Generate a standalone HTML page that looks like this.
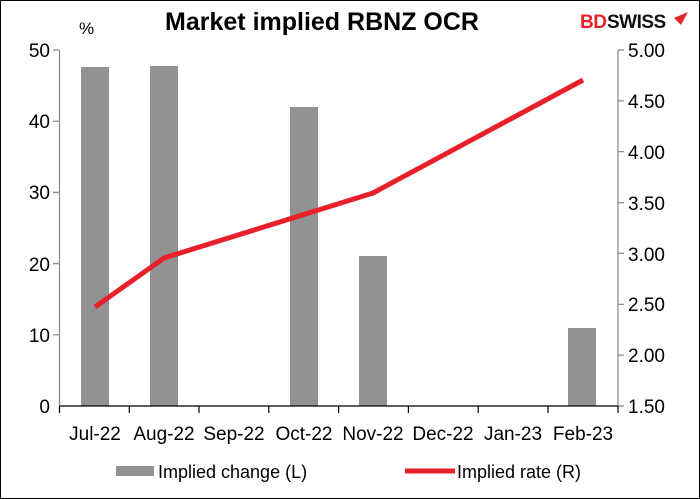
<!DOCTYPE html>
<html><head><meta charset="utf-8"><style>body{margin:0;background:#fff}svg{display:block}</style></head><body>
<svg width="700" height="499" xmlns="http://www.w3.org/2000/svg" font-family="Liberation Sans, sans-serif">
<rect x="0.5" y="0.5" width="699" height="498" fill="#fff" stroke="#000"/>
<text x="322" y="30" font-size="25" font-weight="bold" text-anchor="middle">Market implied RBNZ OCR</text>
<text x="580" y="28" font-size="19" font-weight="bold" fill="#e8202a" letter-spacing="-0.5">BD</text>
<text x="607" y="28" font-size="19" font-weight="bold" fill="#111" letter-spacing="-0.5">SWISS</text>
<path d="M674 18 L688 12 L681 25 Z" fill="#e8202a"/>
<text x="79" y="34" font-size="17">%</text>
<g fill="#929292">
<rect x="81" y="67" width="28" height="339"/>
<rect x="150" y="66" width="28" height="340"/>
<rect x="290" y="107" width="28" height="299"/>
<rect x="359" y="256" width="28" height="150"/>
<rect x="568" y="328" width="28" height="78"/>
</g>
<g stroke="#888" stroke-width="1.2" fill="none">
<path d="M59.5 50 V406"/>
<path d="M53 50H59.5M53 121.2H59.5M53 192.4H59.5M53 263.6H59.5M53 334.8H59.5"/>
<path d="M618 50 V406"/>
<path d="M618 50H624M618 100.9H624M618 151.7H624M618 202.6H624M618 253.4H624M618 304.3H624M618 355.1H624M618 406H624"/>
</g>
<g stroke="#000" stroke-width="1.2">
<path d="M59.5 406H618"/>
<path d="M59.5 406V413M129.3 406V413M199 406V413M268.8 406V413M338.6 406V413M408.4 406V413M478.2 406V413M548 406V413M618 406V413"/>
</g>
<g font-size="19" text-anchor="end">
<text x="50" y="57">50</text><text x="50" y="128">40</text><text x="50" y="199">30</text><text x="50" y="271">20</text><text x="50" y="342">10</text><text x="50" y="413">0</text>
</g>
<g font-size="19">
<text x="628" y="57">5.00</text><text x="628" y="108">4.50</text><text x="628" y="159">4.00</text><text x="628" y="210">3.50</text><text x="628" y="261">3.00</text><text x="628" y="311">2.50</text><text x="628" y="362">2.00</text><text x="628" y="413">1.50</text>
</g>
<g font-size="19" text-anchor="middle">
<text x="95" y="440">Jul-22</text><text x="164" y="440">Aug-22</text><text x="234" y="440">Sep-22</text><text x="304" y="440">Oct-22</text><text x="373" y="440">Nov-22</text><text x="443" y="440">Dec-22</text><text x="513" y="440">Jan-23</text><text x="583" y="440">Feb-23</text>
</g>
<polyline points="95,307 164,258 373,193 583,80" fill="none" stroke="#e8202a" stroke-width="5" stroke-linejoin="round"/>
<rect x="116" y="466" width="38" height="10" fill="#929292"/>
<text x="158" y="478" font-size="18">Implied change (L)</text>
<path d="M405 471 H455" stroke="#e8202a" stroke-width="5"/>
<text x="457" y="478" font-size="18">Implied rate (R)</text>
</svg>
</body></html>
